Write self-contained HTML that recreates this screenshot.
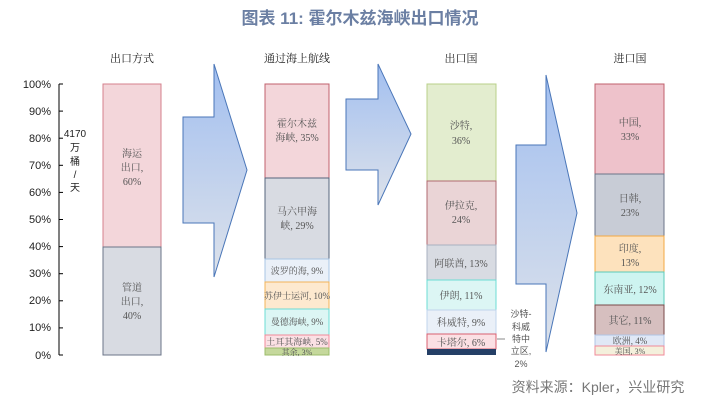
<!DOCTYPE html>
<html><head><meta charset="utf-8"><style>
body{margin:0;background:#fff}
svg{display:block}
text{font-family:"Liberation Sans","Noto Sans CJK SC",sans-serif}
.t{font-family:"Liberation Serif","Noto Serif CJK SC",serif;font-size:10px;fill:#555;text-anchor:middle}
.ax{font-family:"Liberation Sans",sans-serif;font-size:11px;fill:#222;text-anchor:end}
.h{font-family:"Noto Serif CJK SC",serif;font-size:11px;fill:#222;text-anchor:middle}
</style></head><body>
<svg width="720" height="408" viewBox="0 0 720 408">
<defs>
<linearGradient id="g" x1="0" y1="0" x2="0" y2="1">
<stop offset="0" stop-color="#a2bff0"/><stop offset="1" stop-color="#dde2ea"/></linearGradient>
</defs>
<text x="360" y="24" text-anchor="middle" style="font-size:17px;font-weight:bold;fill:#6b7fa3;font-family:'Liberation Sans','Noto Sans CJK SC',sans-serif">图表 11: 霍尔木兹海峡出口情况</text>
<text class="h" x="132" y="62">出口方式</text>
<text class="h" x="297" y="62">通过海上航线</text>
<text class="h" x="461" y="62">出口国</text>
<text class="h" x="630" y="62">进口国</text>
<!-- axis -->
<line x1="59" y1="84" x2="59" y2="355" stroke="#000"/>
<g stroke="#000">
<line x1="59" y1="84" x2="63" y2="84"/><line x1="59" y1="111.1" x2="63" y2="111.1"/><line x1="59" y1="138.2" x2="63" y2="138.2"/><line x1="59" y1="165.3" x2="63" y2="165.3"/><line x1="59" y1="192.4" x2="63" y2="192.4"/><line x1="59" y1="219.5" x2="63" y2="219.5"/><line x1="59" y1="246.6" x2="63" y2="246.6"/><line x1="59" y1="273.7" x2="63" y2="273.7"/><line x1="59" y1="300.8" x2="63" y2="300.8"/><line x1="59" y1="327.9" x2="63" y2="327.9"/><line x1="59" y1="355" x2="63" y2="355"/>
</g>
<g class="ax">
<text x="51" y="88">100%</text><text x="51" y="115">90%</text><text x="51" y="142">80%</text><text x="51" y="169">70%</text><text x="51" y="196">60%</text><text x="51" y="223">50%</text><text x="51" y="250">40%</text><text x="51" y="277">30%</text><text x="51" y="304">20%</text><text x="51" y="331">10%</text><text x="51" y="359">0%</text>
</g>
<g class="t" style="fill:#222">
<text x="75" y="137">4170</text><text x="75" y="151">万</text><text x="75" y="165">桶</text><text x="75" y="178">/</text><text x="75" y="191">天</text>
</g>
<!-- arrows -->
<polygon points="183,117 214,117 214,64 247,170 214,277 214,223 183,223" fill="url(#g)" stroke="#4a76b8"/>
<polygon points="346,99 378,99 378,64 411,134 378,205 378,170 346,170" fill="url(#g)" stroke="#4a76b8"/>
<polygon points="516,145 546,145 546,75 577,213 546,352 546,284 516,284" fill="url(#g)" stroke="#4a76b8"/>
<!-- col1 -->
<rect x="103" y="84" width="58" height="163" fill="#f3d6da" stroke="#d4808c"/>
<rect x="103" y="247" width="58" height="108" fill="#d8dbe2" stroke="#6b7588"/>
<text class="t" x="132" y="157">海运</text><text class="t" x="132" y="171">出口,</text><text class="t" x="132" y="185">60%</text>
<text class="t" x="132" y="291">管道</text><text class="t" x="132" y="305">出口,</text><text class="t" x="132" y="319">40%</text>
<!-- col2 -->
<rect x="265" y="84" width="64" height="94" fill="#f3d6da" stroke="#c0606c"/>
<rect x="265" y="178" width="64" height="81" fill="#d8dbe2" stroke="#56647c"/>
<rect x="265" y="259" width="64" height="23" fill="#eaf0f8" stroke="#a8c6e4"/>
<rect x="265" y="282" width="64" height="27" fill="#fde9cf" stroke="#f2b45a"/>
<rect x="265" y="309" width="64" height="26" fill="#dcf6f4" stroke="#6cdcd4"/>
<rect x="265" y="335" width="64" height="13" fill="#fbe0e4" stroke="#f08a9a"/>
<rect x="265" y="348" width="64" height="7" fill="#c5d89c" stroke="#9cbc6a"/>
<text class="t" x="297" y="127">霍尔木兹</text><text class="t" x="297" y="141">海峡, 35%</text>
<text class="t" x="297" y="215">马六甲海</text><text class="t" x="297" y="229">峡, 29%</text>
<text class="t" x="297" y="274" style="font-size:9px">波罗的海, 9%</text>
<text class="t" x="297" y="299" style="font-size:9px">苏伊士运河, 10%</text>
<text class="t" x="297" y="325" style="font-size:9px">曼德海峡, 9%</text>
<text class="t" x="297" y="345" style="font-size:9px">土耳其海峡, 5%</text>
<text class="t" x="297" y="355" style="font-size:8px">其余, 3%</text>
<!-- col3 -->
<rect x="427" y="84" width="69" height="97" fill="#e3edcf" stroke="#b8d08a"/>
<rect x="427" y="181" width="69" height="64" fill="#ead4d6" stroke="#b06a70"/>
<rect x="427" y="245" width="69" height="35" fill="#d8dbe2" stroke="#a8b0c0"/>
<rect x="427" y="280" width="69" height="30" fill="#dcf6f4" stroke="#6cdcd4"/>
<rect x="427" y="310" width="69" height="24" fill="#eaf0f8" stroke="#c0d4ec"/>
<rect x="427" y="334" width="69" height="15" fill="#fbe0e4" stroke="#d86070"/>
<rect x="427" y="349" width="69" height="6" fill="#243f66"/>
<text class="t" x="461" y="129">沙特,</text><text class="t" x="461" y="144">36%</text>
<text class="t" x="461" y="209">伊拉克,</text><text class="t" x="461" y="223">24%</text>
<text class="t" x="461" y="267">阿联酋, 13%</text>
<text class="t" x="461" y="299">伊朗, 11%</text>
<text class="t" x="461" y="326">科威特, 9%</text>
<text class="t" x="461" y="346">卡塔尔, 6%</text>
<line x1="497" y1="339" x2="505" y2="339" stroke="#888"/>
<g class="t" style="font-size:9px"><text x="521" y="317">沙特-</text><text x="521" y="330">科威</text><text x="521" y="342">特中</text><text x="521" y="354">立区,</text><text x="521" y="367">2%</text></g>
<!-- col4 -->
<rect x="595" y="84" width="69" height="90" fill="#eec2cb" stroke="#c0606c"/>
<rect x="595" y="174" width="69" height="62" fill="#c8ccd6" stroke="#6b7588"/>
<rect x="595" y="236" width="69" height="36" fill="#fde2bd" stroke="#f2a844"/>
<rect x="595" y="272" width="69" height="33" fill="#cdf4f0" stroke="#5ccab8"/>
<rect x="595" y="305" width="69" height="30" fill="#d6bfbf" stroke="#7a4a4a"/>
<rect x="595" y="335" width="69" height="11" fill="#e0e8f6" stroke="#b0c4e4"/>
<rect x="595" y="346" width="69" height="9" fill="#f4f0dc" stroke="#f08a9a"/>
<text class="t" x="630" y="126">中国,</text><text class="t" x="630" y="140">33%</text>
<text class="t" x="630" y="202">日韩,</text><text class="t" x="630" y="216">23%</text>
<text class="t" x="630" y="252">印度,</text><text class="t" x="630" y="266">13%</text>
<text class="t" x="630" y="293">东南亚, 12%</text>
<text class="t" x="630" y="324">其它, 11%</text>
<text class="t" x="630" y="344" style="font-size:9px">欧洲, 4%</text>
<text class="t" x="630" y="354" style="font-size:8px">美国, 3%</text>
<text x="598" y="392" text-anchor="middle" style="font-size:14px;fill:#777;font-family:'Liberation Sans','Noto Sans CJK SC',sans-serif">资料来源：Kpler，兴业研究</text>
</svg>
</body></html>
